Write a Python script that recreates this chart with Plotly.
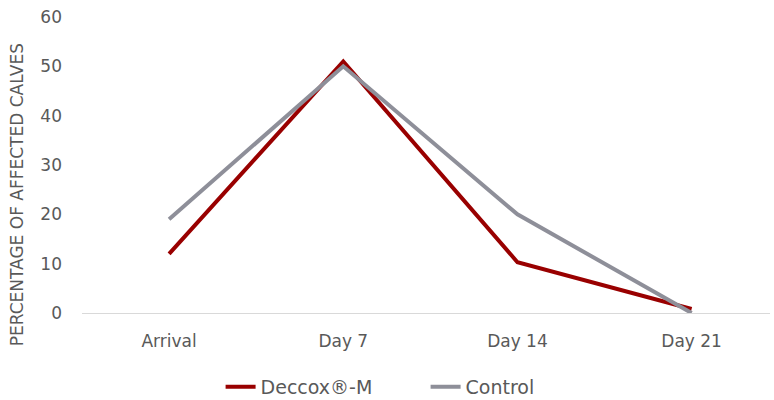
import plotly.graph_objects as go

# Timepoints and share of affected calves (%)
timepoints = ["Arrival", "Day 7", "Day 14", "Day 21"]
deccox_m = [12, 51, 10.3, 0.8]
control = [19, 50, 20, 0]

font_family = "DejaVu Sans, Open Sans, sans-serif"
text_color = "#595959"

fig = go.Figure()
fig.add_trace(go.Scatter(
    x=timepoints, y=deccox_m, name="Deccox®-M", mode="lines",
    line=dict(color="#990000", width=4),
))
fig.add_trace(go.Scatter(
    x=timepoints, y=control, name="Control", mode="lines",
    line=dict(color="#8e8f99", width=4),
))

fig.update_layout(
    width=774, height=400,
    margin=dict(l=82, r=4, t=17, b=87, autoexpand=False),
    paper_bgcolor="white", plot_bgcolor="white",
    font=dict(family=font_family, color=text_color, size=17),
    showlegend=True,
    legend=dict(
        orientation="h", xref="container", yref="container",
        x=0.285, xanchor="left", y=0.033, yanchor="middle",
        font=dict(size=19, color=text_color), traceorder="normal",
        entrywidth=160, entrywidthmode="pixels",
    ),
    xaxis=dict(
        type="category", range=[-0.5, 3.45], automargin=False,
        showgrid=False, showline=True, linecolor="#d9d9d9", linewidth=1,
        ticks="", ticklabelstandoff=13,
        tickfont=dict(size=17, color=text_color),
        zeroline=False,
    ),
    yaxis=dict(
        range=[0, 60], dtick=10, showgrid=False, showline=False,
        zeroline=False, ticks="", automargin=False, ticklabelstandoff=19,
        tickfont=dict(size=17, color=text_color),
    ),
    annotations=[dict(
        text="PERCENTAGE OF AFFECTED CALVES",
        xref="paper", yref="paper", x=-0.095, y=0.4,
        xanchor="center", yanchor="middle", textangle=-90,
        showarrow=False, font=dict(size=17, color=text_color),
    )],
)

fig.write_html("out.html")
